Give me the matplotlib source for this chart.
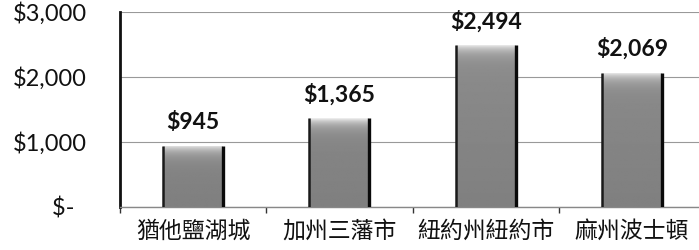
import matplotlib
matplotlib.use("Agg")
import matplotlib.pyplot as plt
import numpy as np
from matplotlib.ticker import FixedLocator

categories = ["猶他鹽湖城", "加州三藩市", "紐約州紐約市", "麻州波士頓"]
values = [945, 1365, 2494, 2069]
ytick_values = [0, 1000, 2000, 3000]
ytick_labels = ["$-  ", "$1,000", "$2,000", "$3,000"]

fig = plt.figure(figsize=(6.99, 2.5), dpi=100)
ax = fig.add_axes([120/699, 43/250, (705-120)/699, (207-12)/250])

x = np.arange(len(categories))
bw = 0.41
bars = ax.bar(x, values, width=bw, color="#8c8c8c", edgecolor="none", zorder=2)
for b in bars:
    x0, y0 = b.get_x(), b.get_y()
    w, h = b.get_width(), b.get_height()
    # shading: gray body, bright highlight near the top
    yy = np.linspace(y0, y0 + h, 300)
    d = (y0 + h) - yy  # distance from top in data units
    shade = 0.50 + 0.06 * (yy / 3000) + 0.42 * np.exp(-d / 100.0)
    img = np.clip(shade, 0, 1).reshape(-1, 1)
    im = ax.imshow(img, cmap="gray", vmin=0, vmax=1, aspect="auto",
                   extent=[x0, x0 + w, y0, y0 + h], origin="lower", zorder=2,
                   interpolation="bilinear")
    im.set_clip_path(b)
    ax.plot([x0 + w, x0 + w], [y0, y0 + h], color="#0a0a0a", lw=2.4, zorder=3,
            solid_capstyle="butt")
    ax.plot([x0, x0], [y0, y0 + h], color="#1a1a1a", lw=1.8, zorder=3,
            solid_capstyle="butt")

for xi, v in zip(x, values):
    ax.annotate(f"${v:,}", (xi, v), xytext=(0, 9), textcoords="offset points",
                ha="center", va="bottom", fontsize=16.5, fontweight="bold",
                family=["Lato", "DejaVu Sans"], color="#111111")

ax.set_xlim(-0.5, len(categories) - 0.5)
ax.set_ylim(0, 3000)
ax.set_yticks(ytick_values)
ax.set_yticklabels(ytick_labels, fontsize=17, family=["Lato", "DejaVu Sans"], color="#111111")
ax.tick_params(axis="y", length=0, pad=24)
ax.yaxis.grid(True, color="#999999", lw=0.8, zorder=0)
ax.set_axisbelow(True)

ax.set_xticks(x)
ax.set_xticklabels(categories, fontsize=16.5, family=["Noto Sans CJK TC", "DejaVu Sans"], color="#111111")
ax.tick_params(axis="x", length=0, pad=9)
ax.xaxis.set_minor_locator(FixedLocator(np.arange(len(categories) + 1) - 0.5))
ax.tick_params(axis="x", which="minor", length=4, width=1, color="#333333", direction="out")

for s in ["top", "right"]:
    ax.spines[s].set_visible(False)
ax.spines["left"].set_linewidth(2)
ax.spines["left"].set_color("#111111")
ax.spines["bottom"].set_color("#888888")
ax.spines["bottom"].set_linewidth(1)

fig.savefig("out.png", dpi=100)
